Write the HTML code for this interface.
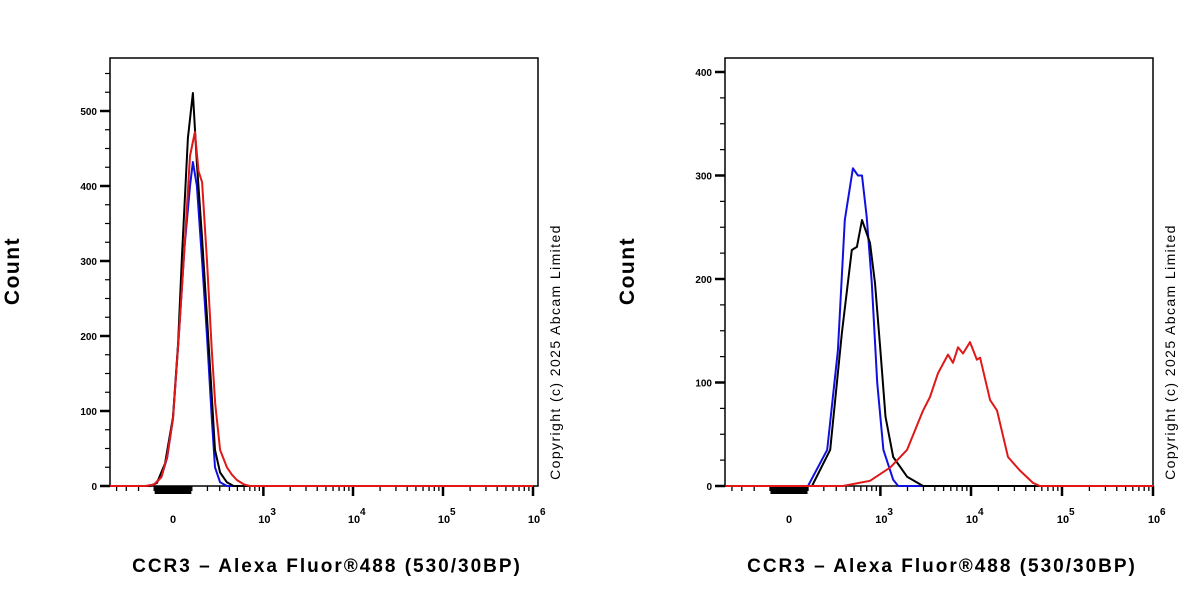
<!DOCTYPE html>
<html><head><meta charset="utf-8"><style>
body{margin:0;background:#fff;}
svg text{font-family:"Liberation Sans",Arial,sans-serif;}
</style></head><body>
<svg id="chart" width="1200" height="600" viewBox="0 0 1200 600" xmlns="http://www.w3.org/2000/svg"></svg>
<script>
// Left panel data (fluorescence intensity, counts)
const leftBlackX=[-480,-150,-123,-85,-41,0,26,46,78,106,130,163,197,233,259,304,372,450,1000000];
const leftBlackY=[0,0,0,4,30,92,190,305,464,524,430,330,225,120,48,18,5,0,0];
const leftRedX=[-480,-150,-100,-60,-30,0,30,60,90,118,140,163,197,233,260,304,372,430,493,600,700,1000000];
const leftRedY=[0,0,2,12,40,90,200,320,440,472,420,405,300,181,110,48,25,15,8,2,0,0];
const leftBlueX=[-480,-150,-100,-60,-30,0,30,60,90,106,130,163,197,233,259,304,372,1000000];
const leftBlueY=[0,0,2,12,38,90,200,320,400,432,400,300,200,90,25,5,0,0];
// Right panel data
const rightBlueX=[-480,100,225,316,386,484,555,618,700,800,920,1080,1390,1580,1000000];
const rightBlueY=[0,0,35,131,257,307,300,300,260,196,100,35,6,0,0];
const rightBlackX=[-480,123,248,355,470,540,618,763,870,1000,1140,1390,1980,2970,1000000];
const rightBlackY=[0,0,35,148,228,231,257,235,196,131,67,28,9,0,0];
const rightRedX=[-480,365,763,1290,1980,2970,3540,4340,5590,6340,7200,8170,9750,11600,12600,16200,19300,25500,34500,48000,57300,1000000];
const rightRedY=[0,0,5,18,35,73,86,109,127,119,134,128,139,122,124,83,73,28,15,3,0,0];
const leftYTicks=[0,100,200,300,400,500];
const rightYTicks=[0,100,200,300,400];
const xDecades=[3,4,5,6];

const NS="http://www.w3.org/2000/svg";
const svg=document.getElementById('chart');
function mk(tag,attrs,parent){const e=document.createElementNS(NS,tag);for(const k in attrs)e.setAttribute(k,attrs[k]);(parent||svg).appendChild(e);return e;}
function tr(v){return Math.asinh(v/200)/Math.LN10;}

function panel(cfg){
  const g=mk('g',{});
  
  
  const xs=v=>cfg.x0+tr(v)*cfg.dec;
  const ys=c=>cfg.yb-c*cfg.ppc;
  const fr=mk('rect',{x:cfg.L,y:58,width:cfg.R-cfg.L,height:cfg.yb-58,fill:'none',stroke:'#000','stroke-width':1.5},g);
  
  const yax=mk('g',{},g);
  for(let c=0;c<=cfg.ymax;c+=25){
    const major=c%100===0;
    mk('line',{x1:cfg.L-(major?10:5),x2:cfg.L,y1:ys(c),y2:ys(c),stroke:'#000','stroke-width':major?2.5:1.2},yax);
  }
  cfg.yt.forEach(c=>{const t=mk('text',{x:cfg.L-13,y:ys(c)+4,'text-anchor':'end','font-size':10,'font-weight':'bold'},yax);t.textContent=c;});
  const xax=mk('g',{},g);
  const minor=[];
  for(let v=-400;v<=-100;v+=100)minor.push(v);
  for(let v=-90;v<=90;v+=10)minor.push(v);
  for(let v=100;v<1000;v+=100)minor.push(v);
  for(let d=3;d<6;d++)for(let k=2;k<10;k++)minor.push(k*Math.pow(10,d));
  minor.forEach(v=>{const x=xs(v);if(x<cfg.L+2)return;const c=Math.abs(v)<100;mk('line',{x1:x,x2:x,y1:cfg.yb,y2:cfg.yb+(c?8:5),stroke:'#000','stroke-width':c?2.6:1.3},xax);});
  xDecades.forEach(d=>{const x=xs(Math.pow(10,d));mk('line',{x1:x,x2:x,y1:cfg.yb,y2:cfg.yb+10,stroke:'#000','stroke-width':2.5},xax);
    const t=mk('text',{x:x+1,y:cfg.yb+37,'text-anchor':'middle','font-size':11,'font-weight':'bold'},xax);t.textContent='10';
    const s=mk('text',{x:x+7,y:cfg.yb+29,'font-size':10,'font-weight':'bold'},xax);s.textContent=d;});
  const z=mk('text',{x:xs(0),y:cfg.yb+37,'text-anchor':'middle','font-size':11,'font-weight':'bold'},xax);z.textContent='0';
  cfg.series.forEach(s=>{
    let d='';s.x.forEach((v,i)=>{let px=Math.max(cfg.L,Math.min(cfg.R,xs(v)));d+=(i?'L':'M')+px.toFixed(1)+','+ys(s.y[i]).toFixed(1);});
    const p=mk('path',{d:d,fill:'none',stroke:s.c,'stroke-width':2,'stroke-linejoin':'round'},g);
    
  });
  const yt=mk('text',{x:0,y:0,'font-size':21,'font-weight':'bold','letter-spacing':'1.5','text-anchor':'middle',transform:`translate(${cfg.L-91},271) rotate(-90)`},g);
  yt.textContent='Count';
  const xt=mk('text',{x:(cfg.L+cfg.R)/2+3,y:572,'font-size':19,'font-weight':'bold','letter-spacing':'2','text-anchor':'middle'},g);
  xt.textContent='CCR3 – Alexa Fluor®488 (530/30BP)';
  const cp=mk('text',{x:0,y:0,'font-size':14,'letter-spacing':'1.4','text-anchor':'middle',transform:`translate(${cfg.R+22},352) rotate(-90)`},g);
  cp.textContent='Copyright (c) 2025 Abcam Limited';
}
panel({name:'left-panel',L:110,R:538,yb:486,x0:173,dec:90,ppc:0.75,ymax:560,yt:leftYTicks,
  series:[{x:leftBlueX,y:leftBlueY,c:'#1010e0',n:'left-blue-series'},{x:leftBlackX,y:leftBlackY,c:'#000',n:'left-black-series'},{x:leftRedX,y:leftRedY,c:'#e01818',n:'left-red-series'}]});
panel({name:'right-panel',L:725,R:1153,yb:486,x0:789,dec:91,ppc:1.035,ymax:410,yt:rightYTicks,
  series:[{x:rightBlueX,y:rightBlueY,c:'#1010e0',n:'right-blue-series'},{x:rightBlackX,y:rightBlackY,c:'#000',n:'right-black-series'},{x:rightRedX,y:rightRedY,c:'#e01818',n:'right-red-series'}]});
</script>
</body></html>
